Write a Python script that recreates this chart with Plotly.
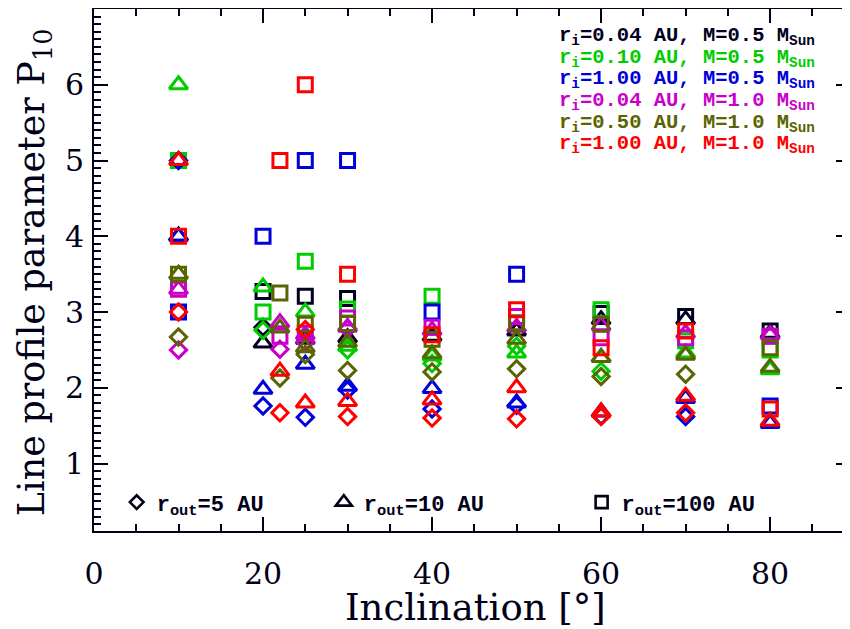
import plotly.graph_objects as go

# ---------------- data ----------------
model_labels = [
    "r<sub>i</sub>=0.04 AU, M=0.5 M<sub>Sun</sub>",
    "r<sub>i</sub>=0.10 AU, M=0.5 M<sub>Sun</sub>",
    "r<sub>i</sub>=1.00 AU, M=0.5 M<sub>Sun</sub>",
    "r<sub>i</sub>=0.04 AU, M=1.0 M<sub>Sun</sub>",
    "r<sub>i</sub>=0.50 AU, M=1.0 M<sub>Sun</sub>",
    "r<sub>i</sub>=1.00 AU, M=1.0 M<sub>Sun</sub>",
]
model_colors = ["#000020", "#00CC00", "#0000DD", "#C800C8", "#5A6400", "#FF0000"]

rout_labels = ["r<sub>out</sub>=5 AU", "r<sub>out</sub>=10 AU", "r<sub>out</sub>=100 AU"]
rout_symbols = ["diamond-open", "triangle-up-open", "square-open"]
rout_sizes = [12.5, 16, 14]

# inclination [deg] and P10 per model, per r_out (5, 10, 100 AU)
black_r5_incl = [20];            black_r5_p10 = [2.80]
black_r10_incl = [10, 20, 25, 30, 40, 50, 60, 70, 80]
black_r10_p10 = [4.00, 2.59, 2.64, 2.66, 2.68, 2.75, 2.90, 2.90, 2.72]
black_r100_incl = [20, 25, 30, 60, 70, 80]
black_r100_p10 = [3.27, 3.21, 3.18, 2.98, 2.94, 2.75]

green_r5_incl = [20, 30, 40, 50, 60]
green_r5_p10 = [2.76, 2.50, 2.32, 2.55, 2.22]
green_r10_incl = [10, 20, 25, 30, 40, 50, 60, 70, 80]
green_r10_p10 = [6.00, 3.33, 3.00, 2.55, 2.42, 2.46, 2.40, 2.46, 2.24]
green_r100_incl = [10, 20, 25, 30, 40, 60, 70, 80]
green_r100_p10 = [5.00, 3.00, 3.67, 3.04, 3.21, 3.03, 2.62, 2.50]

blue_r5_incl = [10, 20, 25, 30, 40, 50, 60, 70]
blue_r5_p10 = [5.00, 1.76, 1.61, 1.97, 1.72, 1.77, 1.63, 1.62]
blue_r10_incl = [10, 20, 25, 30, 40, 50, 60, 70, 80]
blue_r10_p10 = [4.00, 1.98, 2.31, 2.02, 1.99, 1.80, 1.68, 1.86, 1.53]
blue_r100_incl = [10, 20, 25, 30, 40, 50, 80]
blue_r100_p10 = [3.00, 4.00, 5.00, 5.00, 3.00, 3.50, 1.76]

magenta_r5_incl = [10, 22, 25, 30]
magenta_r5_p10 = [2.50, 2.51, 2.60, 2.78]
magenta_r10_incl = [10, 22, 25, 30, 40, 50, 60, 70, 80]
magenta_r10_p10 = [3.30, 2.86, 2.70, 2.80, 2.76, 2.80, 2.82, 2.72, 2.70]
magenta_r100_incl = [10, 22, 25, 30, 40, 50, 60, 70, 80]
magenta_r100_p10 = [3.30, 2.68, 2.72, 2.92, 2.80, 2.94, 2.66, 2.66, 2.68]

olive_r5_incl = [10, 22, 25, 30, 40, 50, 60, 70]
olive_r5_p10 = [2.67, 2.13, 2.44, 2.23, 2.21, 2.25, 2.15, 2.18]
olive_r10_incl = [10, 22, 25, 30, 40, 50, 60, 70, 80]
olive_r10_p10 = [3.50, 2.79, 2.53, 2.60, 2.45, 2.64, 2.40, 2.43, 2.27]
olive_r100_incl = [10, 22, 25, 30, 40, 50, 60, 80]
olive_r100_p10 = [3.50, 3.25, 2.84, 2.85, 2.64, 2.86, 2.84, 2.53]

red_r5_incl = [10, 22, 25, 30, 40, 50, 60, 70]
red_r5_p10 = [3.00, 1.67, 2.77, 1.62, 1.60, 1.59, 1.62, 1.67]
red_r10_incl = [10, 22, 25, 30, 40, 50, 60, 70, 80]
red_r10_p10 = [5.00, 2.22, 1.80, 1.82, 1.84, 2.00, 1.68, 1.89, 1.56]
red_r100_incl = [10, 22, 25, 30, 40, 50, 60, 70, 80]
red_r100_p10 = [4.00, 5.00, 6.00, 3.50, 2.70, 3.03, 2.53, 2.75, 1.72]

series = [
    [(black_r5_incl, black_r5_p10), (black_r10_incl, black_r10_p10), (black_r100_incl, black_r100_p10)],
    [(green_r5_incl, green_r5_p10), (green_r10_incl, green_r10_p10), (green_r100_incl, green_r100_p10)],
    [(blue_r5_incl, blue_r5_p10), (blue_r10_incl, blue_r10_p10), (blue_r100_incl, blue_r100_p10)],
    [(magenta_r5_incl, magenta_r5_p10), (magenta_r10_incl, magenta_r10_p10), (magenta_r100_incl, magenta_r100_p10)],
    [(olive_r5_incl, olive_r5_p10), (olive_r10_incl, olive_r10_p10), (olive_r100_incl, olive_r100_p10)],
    [(red_r5_incl, red_r5_p10), (red_r10_incl, red_r10_p10), (red_r100_incl, red_r100_p10)],
]

# ---------------- figure ----------------
AX = "#000018"
SERIF = "DejaVu Serif"
MONO = "Liberation Mono"

fig = go.Figure()
for mi, model in enumerate(series):
    for ri, (xs, ys) in enumerate(model):
        fig.add_trace(go.Scatter(
            x=xs, y=ys, mode="markers", showlegend=False, hoverinfo="skip",
            marker=dict(symbol=rout_symbols[ri], size=rout_sizes[ri],
                        color=model_colors[mi],
                        line=dict(width=3, color=model_colors[mi])),
        ))

# r_out legend (three separate legends, black symbols)
legend_names = ["legend", "legend2", "legend3"]
legend_x = [0.030, 0.304, 0.645]
for ri in range(3):
    fig.add_trace(go.Scatter(
        x=[None], y=[None], mode="markers", name="<b>" + rout_labels[ri] + "</b>",
        legend=legend_names[ri],
        marker=dict(symbol=rout_symbols[ri], size=rout_sizes[ri] - 2, color=AX,
                    line=dict(width=2.6, color=AX)),
    ))

legend_common = dict(
    bgcolor="rgba(0,0,0,0)", borderwidth=0, yanchor="middle", xanchor="left",
    font=dict(family=MONO, size=22, color=AX), itemwidth=30,
)
layout_legends = {}
for ri, ln in enumerate(legend_names):
    layout_legends[ln] = dict(legend_common, x=legend_x[ri], y=0.055)

annotations = []
# model colour key, top right
for mi, lab in enumerate(model_labels):
    annotations.append(dict(
        xref="paper", yref="paper", x=0.612, y=0.947 - mi * 0.0415,
        xanchor="left", yanchor="middle", showarrow=False,
        text="<b>" + lab + "</b>",
        font=dict(family=MONO, size=20.5, color=model_colors[mi]),
    ))
# axis titles
annotations.append(dict(
    xref="paper", yref="paper", x=0.504, y=-0.147, xanchor="center", yanchor="middle",
    showarrow=False, text="Inclination [°]",
    font=dict(family=SERIF, size=37, color=AX),
))
annotations.append(dict(
    xref="paper", yref="paper", x=-0.080, y=0.495, xanchor="center", yanchor="middle",
    showarrow=False, textangle=-90, text="Line profile parameter P<sub>10</sub>",
    font=dict(family=SERIF, size=36.5, color=AX),
))

# the page adds an 8 px body margin, so the figure is drawn 8 px smaller
fig.update_layout(
    width=842, height=621,
    margin=dict(l=86, r=0, t=1, b=98, autoexpand=False),
    paper_bgcolor="white", plot_bgcolor="white",
    annotations=annotations,
    **layout_legends,
)
fig.update_xaxes(
    range=[0, 89.45], tickmode="linear", tick0=0, dtick=20, automargin=False,
    ticks="inside", ticklen=14, tickwidth=2, tickcolor=AX,
    showline=True, linewidth=2, linecolor=AX, mirror="allticks",
    showgrid=False, zeroline=False,
    minor=dict(dtick=5, tick0=0, ticks="inside", ticklen=7, tickwidth=2, tickcolor=AX, showgrid=False),
    tickfont=dict(family=SERIF, size=30, color=AX), ticklabelstandoff=15,
)
fig.update_yaxes(
    range=[0.11, 7.0], tickmode="linear", tick0=0, dtick=1, automargin=False,
    ticks="inside", ticklen=14, tickwidth=2, tickcolor=AX,
    showline=True, linewidth=2, linecolor=AX, mirror="allticks",
    showgrid=False, zeroline=False,
    minor=dict(dtick=0.1, tick0=0, ticks="inside", ticklen=7, tickwidth=2, tickcolor=AX, showgrid=False),
    tickfont=dict(family=SERIF, size=30, color=AX), ticklabelstandoff=2,
)

fig.write_html("out.html")
